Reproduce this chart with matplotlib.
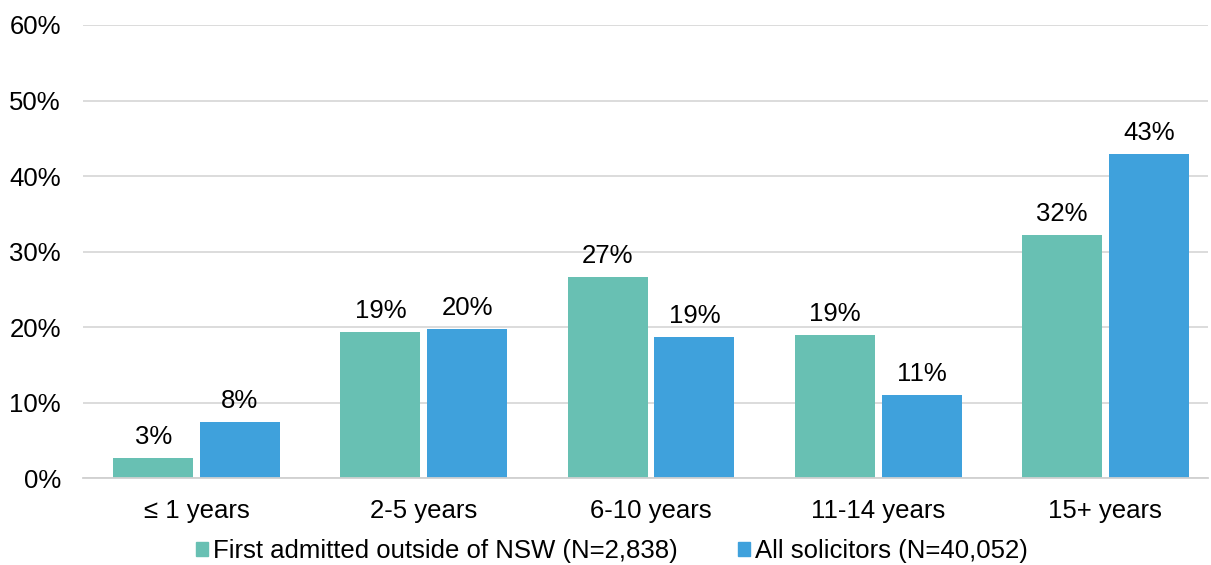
import matplotlib.pyplot as plt
import numpy as np
from matplotlib.patches import Patch

plt.rcParams['font.family'] = ['Liberation Sans', 'DejaVu Sans']

categories = ['≤ 1 years', '2-5 years', '6-10 years', '11-14 years', '15+ years']
outside_nsw = [2.7, 19.4, 26.7, 19.0, 32.2]
all_solicitors = [7.5, 19.8, 18.7, 11.0, 42.9]
series_names = ['First admitted outside of NSW (N=2,838)', 'All solicitors (N=40,052)']
colors = ['#68C0B3', '#3FA1DC']

fs = 18.5

fig = plt.figure(figsize=(12.11, 5.65), dpi=100)
ax = fig.add_axes([83 / 1211, 1 - 478.3 / 565, (1208 - 83) / 1211, (478.3 - 25) / 565])

x = np.arange(len(categories))
w = 0.352
off = 0.191
b1 = ax.bar(x - off, outside_nsw, w, color=colors[0], zorder=2)
b2 = ax.bar(x + off, all_solicitors, w, color=colors[1], zorder=2)

# value labels above each bar
for bars, vals in ((b1, outside_nsw), (b2, all_solicitors)):
    for rect, v in zip(bars, vals):
        ax.annotate(f'{v:.0f}%', (rect.get_x() + rect.get_width() / 2, v),
                    xytext=(0, 6.5), textcoords='offset points',
                    ha='center', va='bottom', fontsize=fs)

ax.set_xlim(-0.5, 4 + (1208 - 1105.3) / 227.2)
ax.set_ylim(0, 60)
ax.set_yticks(np.arange(0, 61, 10))
ax.set_yticklabels([f'{t}%' for t in range(0, 61, 10)])
ax.set_xticks(x)
ax.set_xticklabels(categories)
ax.tick_params(axis='both', length=0, labelsize=fs)
ax.tick_params(axis='y', pad=16)
ax.tick_params(axis='x', pad=15)
ax.grid(axis='y', color='#D9D9D9', linewidth=1.3, zorder=0)
for s in ('top', 'right', 'left'):
    ax.spines[s].set_visible(False)
ax.spines['bottom'].set_color('#D0D0D0')
ax.spines['bottom'].set_linewidth(1.3)

handles = [Patch(color=c) for c in colors]
fig.legend(handles, series_names, loc='center', bbox_to_anchor=(612 / 1211, 1 - 551 / 565),
           ncol=2, frameon=False, fontsize=fs, handlelength=0.47, handleheight=0.47,
           handletextpad=0.2, columnspacing=2.35, borderpad=0)

fig.savefig('out.png', dpi=100)
